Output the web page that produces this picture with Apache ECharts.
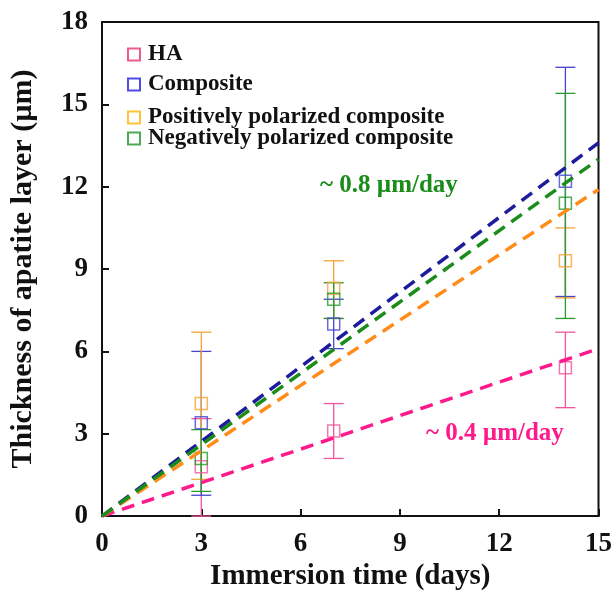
<!DOCTYPE html>
<html>
<head>
<meta charset="utf-8">
<script src="https://cdn.jsdelivr.net/npm/echarts@6/dist/echarts.min.js"></script>
<style>
  html, body { margin: 0; padding: 0; background: #fff; }
  #chart { width: 615px; height: 596px; }
</style>
</head>
<body>
<div id="chart"></div>
<script>
// measured days
const days = [3, 7, 14]

// mean thickness and error bar ends (um)
const haMean = [1.8, 3.1, 5.4]
const haLow = [0, 2.1, 3.95]
const haHigh = [3.55, 4.1, 6.7]

const compMean = [3.4, 7.0, 12.2]
const compLow = [0.76, 6.1, 8.0]
const compHigh = [6.0, 7.9, 16.35]

const posMean = [4.1, 8.3, 9.3]
const posLow = [1.34, 7.2, 7.95]
const posHigh = [6.7, 9.3, 10.5]

const negMean = [2.1, 7.9, 11.4]
const negLow = [0.9, 7.2, 7.2]
const negHigh = [3.15, 8.5, 15.4]

// linear fits through origin, value at day 15
const fitDays = [0, 15]
const haFit = [0, 6.1]
const compFit = [0, 13.6]
const posFit = [0, 11.9]
const negFit = [0, 13.0]

const xTicks = [0, 3, 6, 9, 12, 15]
const yTicks = [0, 3, 6, 9, 12, 15, 18]

const FONT = '"Liberation Serif", "Times New Roman", serif'

const groups = [
    { name: 'HA', mean: haMean, low: haLow, high: haHigh, fit: haFit,
      mark: '#f0559e', line: '#ff1a8c', key: '#e8336e' },
    { name: 'Composite', mean: compMean, low: compLow, high: compHigh, fit: compFit,
      mark: '#4545d0', line: '#1c1c9c', key: '#2222e0' },
    { name: 'Positively polarized composite', mean: posMean, low: posLow, high: posHigh, fit: posFit,
      mark: '#f5a335', line: '#ff8c1a', key: '#ffb400' },
    { name: 'Negatively polarized composite', mean: negMean, low: negLow, high: negHigh, fit: negFit,
      mark: '#2b9b2b', line: '#1a8c1a', key: '#22922b' }
]

// legend rows, one legend each so the rows sit where they do in the figure
const legendTops = [38, 68, 101, 122]

const errorBar = (g) => ({
    type: 'custom',
    silent: true,
    z: 3,
    data: days.map((d, i) => [d, g.low[i], g.high[i]]),
    renderItem(params, api) {
        const lo = api.coord([api.value(0), api.value(1)])
        const hi = api.coord([api.value(0), api.value(2)])
        const w = 10
        const style = { stroke: g.mark, lineWidth: 1.3 }
        return {
            type: 'group',
            children: [
                { type: 'line', shape: { x1: lo[0], y1: lo[1], x2: hi[0], y2: hi[1] }, style },
                { type: 'line', shape: { x1: lo[0] - w, y1: lo[1], x2: lo[0] + w, y2: lo[1] }, style },
                { type: 'line', shape: { x1: hi[0] - w, y1: hi[1], x2: hi[0] + w, y2: hi[1] }, style }
            ]
        }
    }
})

const series = []
groups.forEach(g => {
    series.push(errorBar(g))
    series.push({
        name: g.name,
        type: 'scatter',
        symbol: 'rect',
        symbolSize: 12,
        z: 4,
        itemStyle: { color: 'rgba(255,255,255,0)', borderColor: g.mark, borderWidth: 1.5 },
        data: days.map((d, i) => [d, g.mean[i]])
    })
    series.push({
        type: 'line',
        symbol: 'none',
        silent: true,
        z: 5,
        lineStyle: { color: g.line, width: 3.5, type: [13, 8] },
        data: fitDays.map((d, i) => [d, g.fit[i]])
    })
})

const chart = echarts.init(document.getElementById('chart'))
chart.setOption({
    animation: false,
    backgroundColor: '#fff',
    grid: {
        left: 101, right: 16, top: 22, bottom: 79,
        show: true, borderColor: '#111', borderWidth: 2
    },
    legend: groups.map((g, i) => ({
        left: 122,
        top: legendTops[i],
        orient: 'vertical',
        icon: 'rect',
        itemWidth: 12,
        itemHeight: 12,
        selectedMode: false,
        data: [{ name: g.name, itemStyle: { color: 'rgba(255,255,255,0)', borderColor: g.key, borderWidth: 2 } }],
        textStyle: { fontFamily: FONT, fontWeight: 'bold', fontSize: 23, color: '#111', padding: [0, 0, 0, 3] }
    })),
    xAxis: {
        type: 'value',
        min: xTicks[0], max: xTicks[xTicks.length - 1], interval: 3,
        name: 'Immersion time (days)',
        nameLocation: 'middle',
        nameGap: 43,
        nameTextStyle: { fontFamily: FONT, fontWeight: 'bold', fontSize: 29, color: '#111' },
        axisLine: { lineStyle: { color: '#111', width: 2 } },
        axisTick: { inside: true, length: 7, lineStyle: { color: '#111', width: 2 } },
        axisLabel: { margin: 14, fontFamily: FONT, fontWeight: 'bold', fontSize: 27, color: '#111' },
        splitLine: { show: false }
    },
    yAxis: {
        type: 'value',
        min: yTicks[0], max: yTicks[yTicks.length - 1], interval: 3,
        name: 'Thickness of apatite layer (\u00b5m)',
        nameLocation: 'middle',
        nameGap: 64,
        nameTextStyle: { fontFamily: FONT, fontWeight: 'bold', fontSize: 30, color: '#111' },
        axisLine: { lineStyle: { color: '#111', width: 2 } },
        axisTick: { inside: true, length: 7, lineStyle: { color: '#111', width: 2 } },
        axisLabel: { margin: 14, fontFamily: FONT, fontWeight: 'bold', fontSize: 27, color: '#111' },
        splitLine: { show: false }
    },
    graphic: [
        {
            type: 'text', left: 320, top: 173,
            style: { text: '~ 0.8 \u00b5m/day', fill: '#1a8c1a', font: 'bold 25px ' + FONT }
        },
        {
            type: 'text', left: 426, top: 421,
            style: { text: '~ 0.4 \u00b5m/day', fill: '#ff1a8c', font: 'bold 25px ' + FONT }
        }
    ],
    series
})
</script>
</body>
</html>
